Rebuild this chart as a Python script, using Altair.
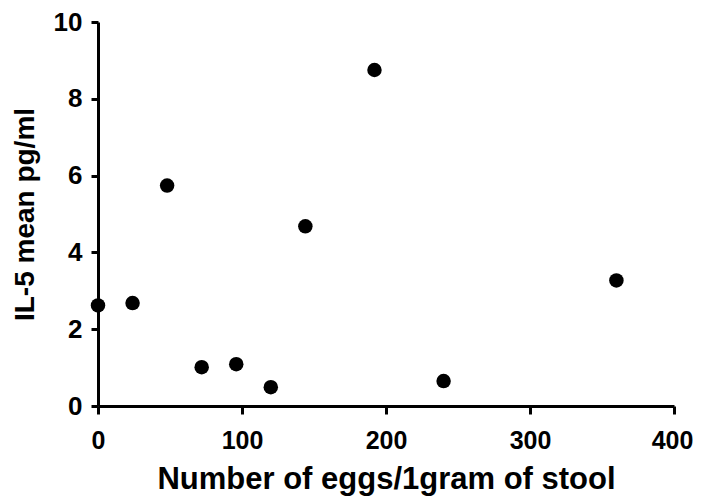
import altair as alt
import pandas as pd

eggs = [0, 24, 48, 72, 96, 120, 144, 192, 240, 360]
il5 = [2.62, 2.68, 5.74, 1.01, 1.09, 0.49, 4.68, 8.75, 0.65, 3.27]

df = pd.DataFrame({"eggs": eggs, "il5": il5})

FONT = "Liberation Sans"

chart = alt.Chart(df).mark_circle(size=210, color="black", opacity=1).encode(
    x=alt.X("eggs:Q",
            scale=alt.Scale(domain=[0, 400], nice=False, zero=False),
            axis=alt.Axis(title="Number of eggs/1gram of stool", values=[0, 100, 200, 300, 400],
                          tickSize=8, labelPadding=14, titlePadding=11, labelFlush=False,
                          labelFontSize=25,
                          labelOffset={"condition": {"test": "datum.value == 400", "value": -2}, "value": 0})),
    y=alt.Y("il5:Q",
            scale=alt.Scale(domain=[0, 10], nice=False),
            axis=alt.Axis(title="IL-5 mean pg/ml", values=[0, 2, 4, 6, 8, 10],
                          tickSize=7, labelPadding=9, titlePadding=14, labelFlush=False)),
).properties(
    width=576, height=384,
    autosize=alt.AutoSizeParams(type="none"),
    padding={"left": 90, "top": 14, "right": 19, "bottom": 94},
).configure_view(
    stroke=None
).configure_axis(
    grid=False,
    domainColor="black", domainWidth=3,
    tickColor="black", tickWidth=3,
    labelFont=FONT, labelFontSize=26, labelFontWeight="bold", labelColor="black",
    titleFont=FONT, titleFontWeight="bold", titleColor="black",
).configure_axisX(
    titleFontSize=31,
).configure_axisY(
    titleFontSize=28,
)

chart.save("out.html", embed_options={"renderer": "svg", "actions": False})
